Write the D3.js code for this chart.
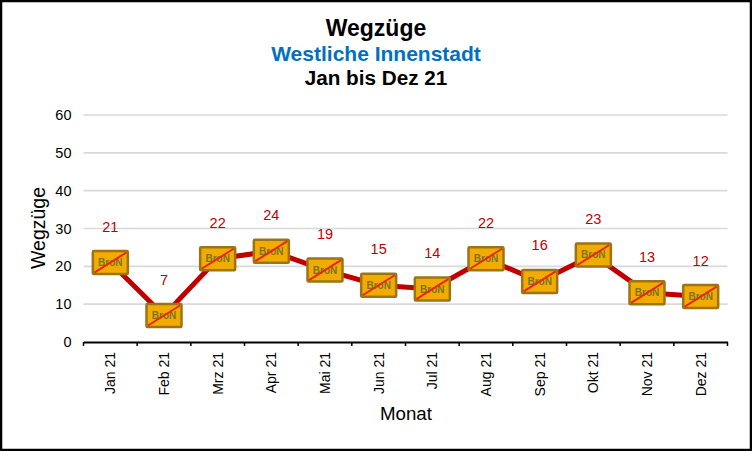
<!DOCTYPE html>
<html>
<head>
<meta charset="utf-8">
<script src="https://cdn.jsdelivr.net/npm/d3@7"></script>
<style>
html, body { margin: 0; padding: 0; background: white; }
svg { display: block; }
text { font-family: "Liberation Sans", Arial, sans-serif; }
</style>
</head>
<body>
<div id="chart"></div>
<script>
var months = ["Jan 21", "Feb 21", "Mrz 21", "Apr 21", "Mai 21", "Jun 21", "Jul 21", "Aug 21", "Sep 21", "Okt 21", "Nov 21", "Dez 21"]
var values = [21, 7, 22, 24, 19, 15, 14, 22, 16, 23, 13, 12]
var y_ticks = [0, 10, 20, 30, 40, 50, 60]

var width = 752
var height = 451
var margin = {top: 115, right: 24.5, bottom: 109, left: 83.5}

var x_scale = d3.scaleBand()
    .domain(months)
    .range([margin.left, width - margin.right]);

var y_scale = d3.scaleLinear()
    .domain([0, 60])
    .range([height - margin.bottom, margin.top]);

var svg = d3.select("#chart")
    .append("svg")
    .attr("width", width)
    .attr("height", height)

// Frame

svg.append("rect")
    .attr("x", 1)
    .attr("y", 1)
    .attr("width", width - 2)
    .attr("height", height - 2)
    .style("fill", "white")
    .style("stroke", "black")
    .style("stroke-width", 2.5)

// Titles

var titles = [
    {text: "Wegzüge", y: 36, size: 23, color: "#000000"},
    {text: "Westliche Innenstadt", y: 61, size: 21, color: "#0070c0"},
    {text: "Jan bis Dez 21", y: 85, size: 20.7, color: "#000000"}
]

svg.selectAll(".title")
    .data(titles)
    .enter()
    .append("text")
    .attr("class", "title")
    .attr("x", 376)
    .attr("y", function(d) { return d.y; })
    .attr("text-anchor", "middle")
    .style("font-size", function(d) { return d.size + "px"; })
    .style("font-weight", "bold")
    .style("fill", function(d) { return d.color; })
    .text(function(d) { return d.text; })

// Grid lines

svg.append("g")
    .selectAll("line")
    .data(y_ticks.slice(1))
    .enter()
    .append("line")
    .attr("x1", margin.left)
    .attr("x2", width - margin.right)
    .attr("y1", function(d) { return y_scale(d); })
    .attr("y2", function(d) { return y_scale(d); })
    .style("stroke", "#d9d9d9")
    .style("stroke-width", 1.7)

// Axes

var yAxis = d3.axisLeft(y_scale)
    .tickValues(y_ticks)
    .tickSize(0)
    .tickPadding(12);

var y_g = svg.append("g")
    .attr("transform", "translate(" + margin.left + ",0)")
    .call(yAxis)
y_g.select(".domain").remove()
y_g.selectAll("text")
    .style("font-size", "14.5px")
    .style("fill", "#000")
    .style("font-family", '"Liberation Sans", Arial, sans-serif')

var xAxis = d3.axisBottom(x_scale)
    .tickSize(0)
    .tickPadding(0);

var x_g = svg.append("g")
    .attr("transform", "translate(0," + y_scale(0) + ")")
    .call(xAxis)
x_g.select(".domain")
    .style("stroke", "black")
    .style("stroke-width", 2)
x_g.selectAll("text")
    .attr("transform", "rotate(-90)")
    .attr("x", -10)
    .attr("y", 0)
    .attr("dy", "0.35em")
    .attr("text-anchor", "end")
    .style("font-size", "14px")
    .style("fill", "#000")
    .style("font-family", '"Liberation Sans", Arial, sans-serif')

// Tick marks sit on the band edges

x_g.append("g")
    .selectAll("line")
    .data(months.concat(["end"]))
    .enter()
    .append("line")
    .attr("x1", function(d, i) { return margin.left + i * x_scale.step(); })
    .attr("x2", function(d, i) { return margin.left + i * x_scale.step(); })
    .attr("y1", 0)
    .attr("y2", 4)
    .style("stroke", "black")
    .style("stroke-width", 1.5)

// Axis titles

svg.append("text")
    .attr("x", 406)
    .attr("y", 420)
    .attr("text-anchor", "middle")
    .style("font-size", "18.7px")
    .text("Monat")

svg.append("text")
    .attr("transform", "translate(45,228) rotate(-90)")
    .attr("text-anchor", "middle")
    .style("font-size", "19.5px")
    .text("Wegzüge")

// Line

function x_mid(d) {
    return x_scale(d) + x_scale.bandwidth() / 2;
}

var line = d3.line()
    .x(function(d, i) { return x_mid(months[i]); })
    .y(function(d) { return y_scale(d); })

svg.append("path")
    .datum(values)
    .attr("d", line)
    .style("fill", "none")
    .style("stroke", "#c00000")
    .style("stroke-width", 5)

// Broken image markers

var markers = svg.selectAll(".marker")
    .data(values)
    .enter()
    .append("g")
    .attr("class", "marker")
    .attr("transform", function(d, i) {
        return "translate(" + x_mid(months[i]) + "," + y_scale(d) + ")";
    })

markers.append("rect")
    .attr("x", -17.5)
    .attr("y", -11.5)
    .attr("width", 35)
    .attr("height", 23)
    .attr("rx", 1)
    .style("fill", "#f2ac00")
    .style("stroke", "#9c7416")
    .style("stroke-width", 2.5)

markers.append("text")
    .attr("y", 3.5)
    .attr("text-anchor", "middle")
    .style("font-size", "10px")
    .style("font-weight", "bold")
    .style("fill", "#7d7420")
    .text("BroN")

markers.append("line")
    .attr("x1", -16)
    .attr("y1", 10)
    .attr("x2", 16)
    .attr("y2", -10)
    .style("stroke", "#e8261c")
    .style("stroke-width", 2)

// Value labels

svg.selectAll(".value")
    .data(values)
    .enter()
    .append("text")
    .attr("class", "value")
    .attr("x", function(d, i) { return x_mid(months[i]); })
    .attr("y", function(d) { return y_scale(d) - 31; })
    .attr("text-anchor", "middle")
    .style("font-size", "14.5px")
    .style("fill", "#c00000")
    .text(function(d) { return d; })
</script>
</body>
</html>
